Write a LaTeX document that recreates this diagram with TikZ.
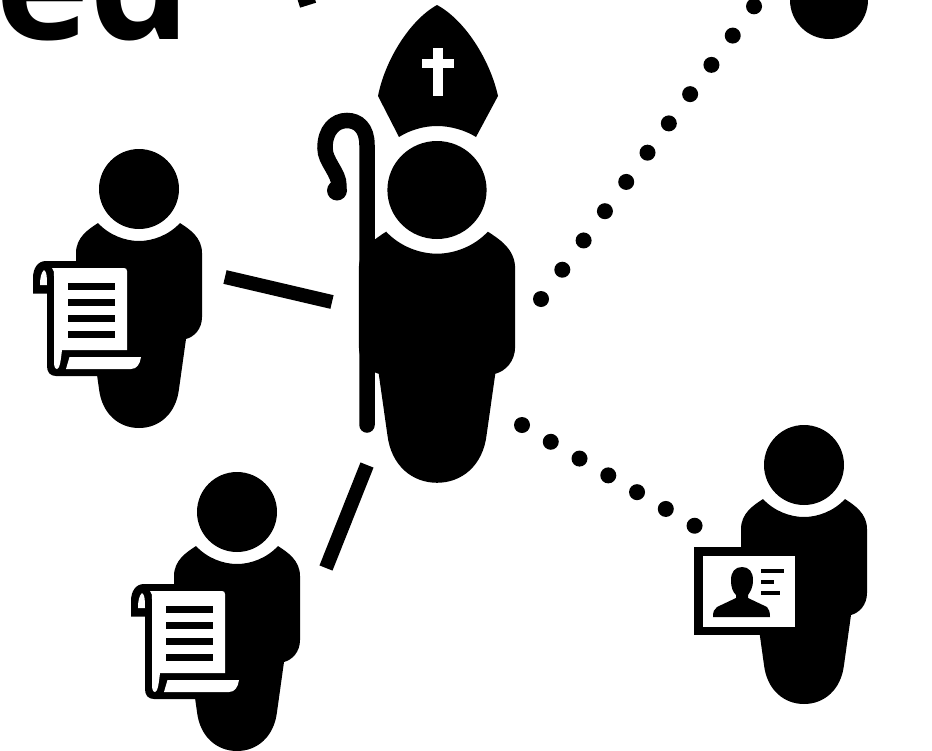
\documentclass[tikz,border=0pt]{standalone}
\usepackage{fontspec}
\newfontfamily\headfont[Scale=1]{Open Sans}
\tikzset{
  ink/.style={fill=black,draw=none},
  paper/.style={fill=white,draw=none},
  solidlink/.style={draw=black,line width=14pt,line cap=butt},
  dotlinkA/.style={draw=black,line width=16pt,line cap=round,dash pattern=on 0pt off 36.2pt},
  dotlinkB/.style={draw=black,line width=16pt,line cap=round,dash pattern=on 0pt off 33.3pt},
  person/.pic={
    \fill[ink] (0,0) circle (40);
    \fill[ink] (-41,34) .. controls (-30,46) and (-14,52) .. (0,52)
      .. controls (14,52) and (30,46) .. (41,34)
      .. controls (50,40) and (63,48) .. (63,64) -- (63,128)
      .. controls (63,140) and (55,148) .. (47,150) -- (40,200)
      .. controls (37,225) and (20,239) .. (0,239)
      .. controls (-20,239) and (-37,225) .. (-40,200) -- (-47,150)
      .. controls (-55,148) and (-63,140) .. (-63,128) -- (-63,64)
      .. controls (-63,48) and (-50,40) .. (-41,34) -- cycle;
  },
  scroll/.pic={
    \fill[ink] (75,261) -- (46,261) .. controls (38,261) and (33,268) .. (33,278)
      -- (33,293.5) -- (47,293.5) -- (47,366) .. controls (47,372) and (50,376) .. (56,376)
      -- (100,376) -- (100,261) -- cycle;
    \fill[paper] (52,268) -- (124,268) .. controls (126,268) and (127,269) .. (127,271)
      -- (127,350) -- (62,350) .. controls (61,358) and (60,369) .. (57,369)
      .. controls (55,369) and (54,366) .. (54,362) -- (54,276)
      .. controls (54,272) and (54,270) .. (52,268) -- cycle;
    \fill[paper] (69.5,357) -- (141,357) .. controls (140,364) and (137,369) .. (131,369)
      -- (66,369) -- cycle;
    \fill[paper] (40,285) .. controls (40,278) and (41,273) .. (44,270)
      .. controls (46.5,272) and (47,275) .. (47,285) -- cycle;
    \foreach \yy in {286,302,318,334} \fill[ink] (68,\yy-3.5) rectangle (115,\yy+3.5);
  },
}
\begin{document}
\begin{tikzpicture}[x=1pt,y=-1pt]
\useasboundingbox (0,0) rectangle (932,750);
\clip (0,0) rectangle (932,750);
\fill[white] (0,0) rectangle (932,750);
% cropped heading
\node[anchor=base west,inner sep=0pt,text=black] (heading) at (-5,39.5)
  {\fontsize{160}{160}\selectfont\headfont\bfseries ed};
% connector end points
\coordinate (linkAfrom) at (225,277);
\coordinate (linkAto) at (332,302);
\coordinate (linkBfrom) at (367,465);
\coordinate (linkBto) at (326,568);
\coordinate (dotAfrom) at (541,299);
\coordinate (dotAto) at (755,5);
\coordinate (dotBfrom) at (522,425);
\coordinate (dotBto) at (695,526);
\coordinate (stubfrom) at (314,-4);
\coordinate (stubto) at (298,1);
% bishop
\draw[black,line width=15.5pt,line cap=round] (367,425) -- (367,145)
  .. controls (367,128) and (358,120.5) .. (347,120.5)
  .. controls (335,120.5) and (325,130) .. (325,148)
  .. controls (325,162) and (339,172) .. (339,186);
\fill[ink] (337,190.5) circle (10);
\pic[xscale=1.24,yscale=1.225] (bishop) at (437,190) {person};
\fill[ink] (437,5) .. controls (465,20) and (490,60) .. (498,96)
  -- (476,137) .. controls (465,130) and (450,126) .. (437,126)
  .. controls (424,126) and (410,130) .. (399,137)
  -- (378,96) .. controls (385,60) and (410,20) .. (437,5) -- cycle;
\fill[paper] (433,48) rectangle (443,96);
\fill[paper] (422,59) rectangle (454,68);
% left people
\pic (clerkA) at (139,189) {person};
\pic (scrollA) at (0,0) {scroll};
\pic (clerkB) at (237,512) {person};
\pic (scrollB) at (98,323) {scroll};
% right person with card
\pic (holder) at (804,465) {person};
\fill[ink] (694,547) rectangle (760,635);
\fill[paper] (703,556) rectangle (795,627);
\fill[ink] (742,567) .. controls (749,567) and (753,572) .. (753,580)
  .. controls (753,588) and (750,592) .. (748,595) -- (748,598)
  -- (767,607) .. controls (769,609) and (770,612) .. (770,617)
  -- (713,617) .. controls (713,612) and (714,609) .. (717,607)
  -- (736,598) -- (736,595) .. controls (733,592) and (731,588) .. (731,580)
  .. controls (731,572) and (735,567) .. (742,567) -- cycle;
\fill[ink] (761,569.3) rectangle (783.5,572.8);
\fill[ink] (761,580.3) rectangle (773.5,583.8);
\fill[ink] (761,591.3) rectangle (779.5,594.8);
% head cut off at the top right
\fill[ink] (829,0) circle (39);
% connectors
\draw[solidlink] (linkAfrom) -- (linkAto);
\draw[solidlink] (linkBfrom) -- (linkBto);
\draw[solidlink] (stubfrom) -- (stubto);
\draw[dotlinkA] (dotAfrom) -- (dotAto);
\draw[dotlinkB] (dotBfrom) -- (dotBto);
\end{tikzpicture}
\end{document}
